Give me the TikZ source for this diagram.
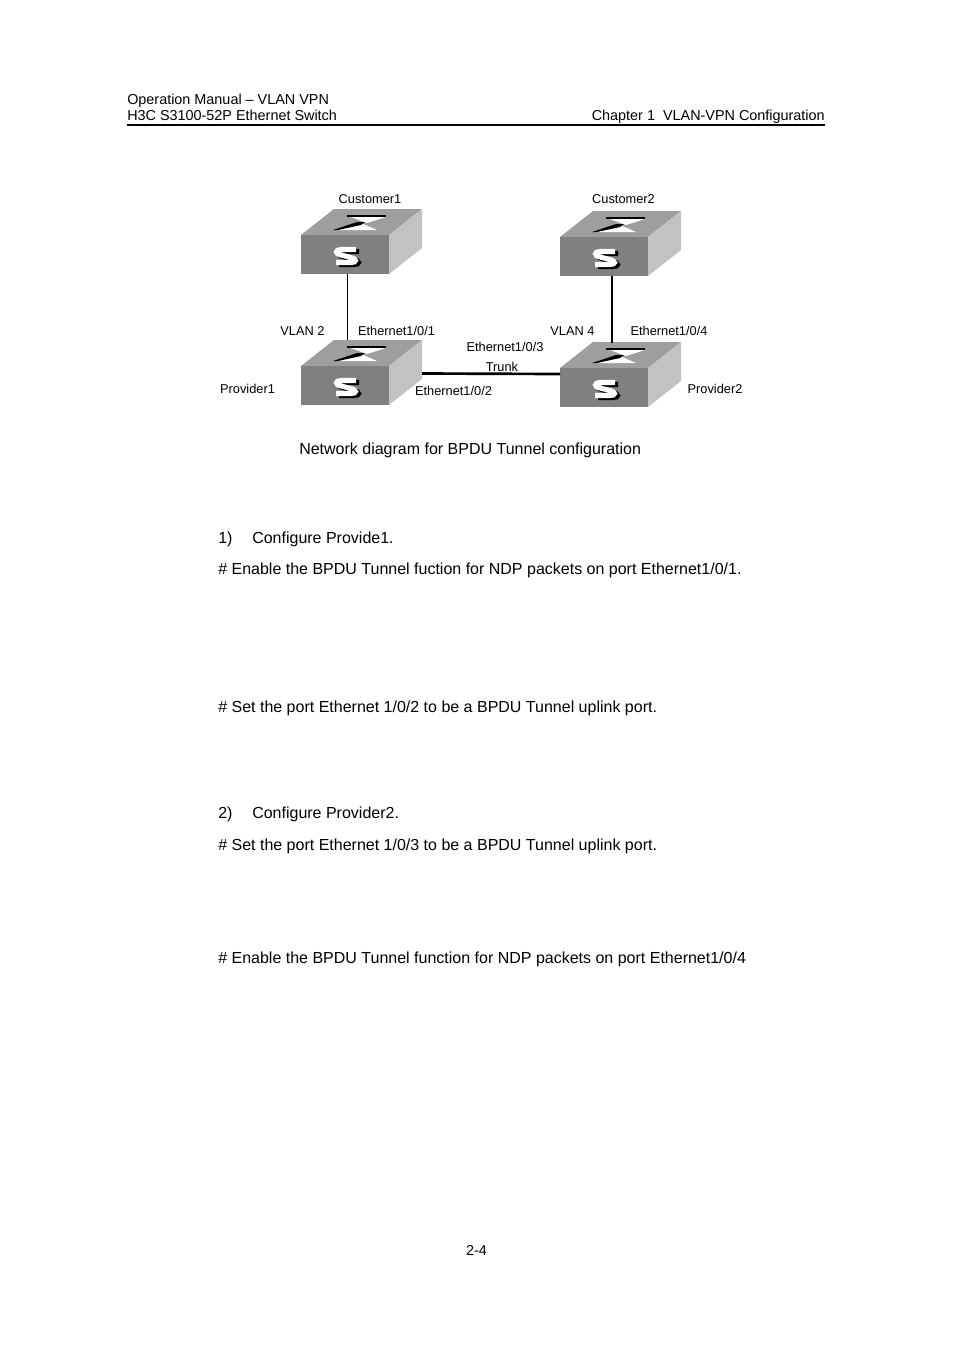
\documentclass[tikz,border=0pt]{standalone}
\usepackage{fontspec}
\setmainfont{Liberation Sans}
\usetikzlibrary{positioning}
\definecolor{switchfront}{gray}{0.50}
\definecolor{switchtop}{gray}{0.62}
\definecolor{switchside}{gray}{0.76}
\tikzset{
	bodytext/.style={anchor=base west,inner sep=0pt,font=\fontsize{12}{14}\selectfont},
	headtext/.style={anchor=base west,inner sep=0pt,font=\fontsize{10.8}{13}\selectfont},
	labeltext/.style={anchor=base,inner sep=0pt,font=\fontsize{9.6}{12}\selectfont},
	frontface/.style={draw=none,fill=switchfront,minimum width=66pt,minimum height=29pt,inner sep=0pt,outer sep=0pt,anchor=north west},
	switchicon/.pic={
		\fill[switchtop] (0,0)--(33,-26)--(121,-26)--(88,0)--cycle;
		\fill[switchside] (88,0)--(121,-26)--(121,13)--(88,39)--cycle;
		\node[frontface] (-front) at (0,0) {};
		% cross on the top face
		\fill[white] (50,-18)--(85,-18)--(66,-12)--cycle;
		\fill[white] (36,-5)--(76,-5)--(60,-12)--cycle;
		\draw[black,line width=1pt] (46,-19)--(85,-19);
		\fill[black] (32,-5)--(56,-13)--(64,-13)--(60,-10)--(37,-5)--cycle;
		% letter on the front face
		\draw[black,line width=3.8pt] (58,16.5)--(43,16.5) .. controls (37,16.5) and (37,21) .. (43,22) -- (53,24.5) .. controls (59,26) and (59,29.5) .. (53,29.5) -- (38,29.5);
		\draw[white,line width=3.8pt] (55,14.5)--(40,14.5) .. controls (34,14.5) and (34,19) .. (40,20) -- (50,22.5) .. controls (56,24) and (56,27.5) .. (50,27.5) -- (35,27.5);
	}
}
\begin{document}
\begin{tikzpicture}[x=0.75pt,y=-0.75pt]
	\useasboundingbox (0,0) rectangle (954,1350);
	% page head
	\node[headtext] (headone) at (127,104) {Operation Manual -- VLAN VPN};
	\node[headtext] (headtwo) at (127,120) {H3C S3100-52P Ethernet Switch};
	\node[headtext,anchor=base east] (headthree) at (825,120) {Chapter 1\ \ VLAN-VPN Configuration};
	\draw[line width=1.4pt] (127,125) -- (825,125);
	% switches
	\pic (cust1) at (301,235) {switchicon};
	\pic (cust2) at (560,237) {switchicon};
	\pic (prov1) at (301,366) {switchicon};
	\pic (prov2) at (560,368) {switchicon};
	% links
	\draw[line width=1.4pt] (cust1-front.south west)++(46.5,0) coordinate (cust1port) -- ++(0,66.5) coordinate (prov1port);
	\draw[line width=1.4pt] (cust2-front.south west)++(52,0) coordinate (cust2port) -- ++(0,67) coordinate (prov2port);
	\coordinate (prov1east) at (422,373.5);
	\coordinate (prov2west) at (560,374);
	\draw[line width=2pt] (prov1east) -- (prov2west);
	% labels
	\node[labeltext] (lcust1) at (370,203) {Customer1};
	\node[labeltext] (lcust2) at (623.5,203) {Customer2};
	\node[labeltext] (lvlan2) at (302.5,335) {VLAN 2};
	\node[labeltext] (leth1) at (396.5,335) {Ethernet1/0/1};
	\node[labeltext] (lprov1) at (247.5,393) {Provider1};
	\node[labeltext] (leth2) at (453.5,395) {Ethernet1/0/2};
	\node[labeltext] (leth3) at (505,351) {Ethernet1/0/3};
	\node[labeltext] (ltrunk) at (502,371) {Trunk};
	\node[labeltext] (lvlan4) at (572.5,335) {VLAN 4};
	\node[labeltext] (leth4) at (669,335) {Ethernet1/0/4};
	\node[labeltext] (lprov2) at (715,393) {Provider2};
	% page text
	\node[bodytext] (caption) at (299,454) {Network diagram for BPDU Tunnel configuration};
	\node[bodytext] (stepone) at (218,543) {1)};
	\node[bodytext] (steponetext) at (252,543) {Configure Provide1.};
	\node[bodytext] (noteone) at (218,574) {\# Enable the BPDU Tunnel fuction for NDP packets on port Ethernet1/0/1.};
	\node[bodytext] (notetwo) at (218,712) {\# Set the port Ethernet 1/0/2 to be a BPDU Tunnel uplink port.};
	\node[bodytext] (steptwo) at (218,818) {2)};
	\node[bodytext] (steptwotext) at (252,818) {Configure Provider2.};
	\node[bodytext] (notethree) at (218,850) {\# Set the port Ethernet 1/0/3 to be a BPDU Tunnel uplink port.};
	\node[bodytext] (notefour) at (218,963) {\# Enable the BPDU Tunnel function for NDP packets on port Ethernet1/0/4};
	\node[headtext,anchor=base] (pageno) at (476.5,1255) {2-4};
\end{tikzpicture}
\end{document}
